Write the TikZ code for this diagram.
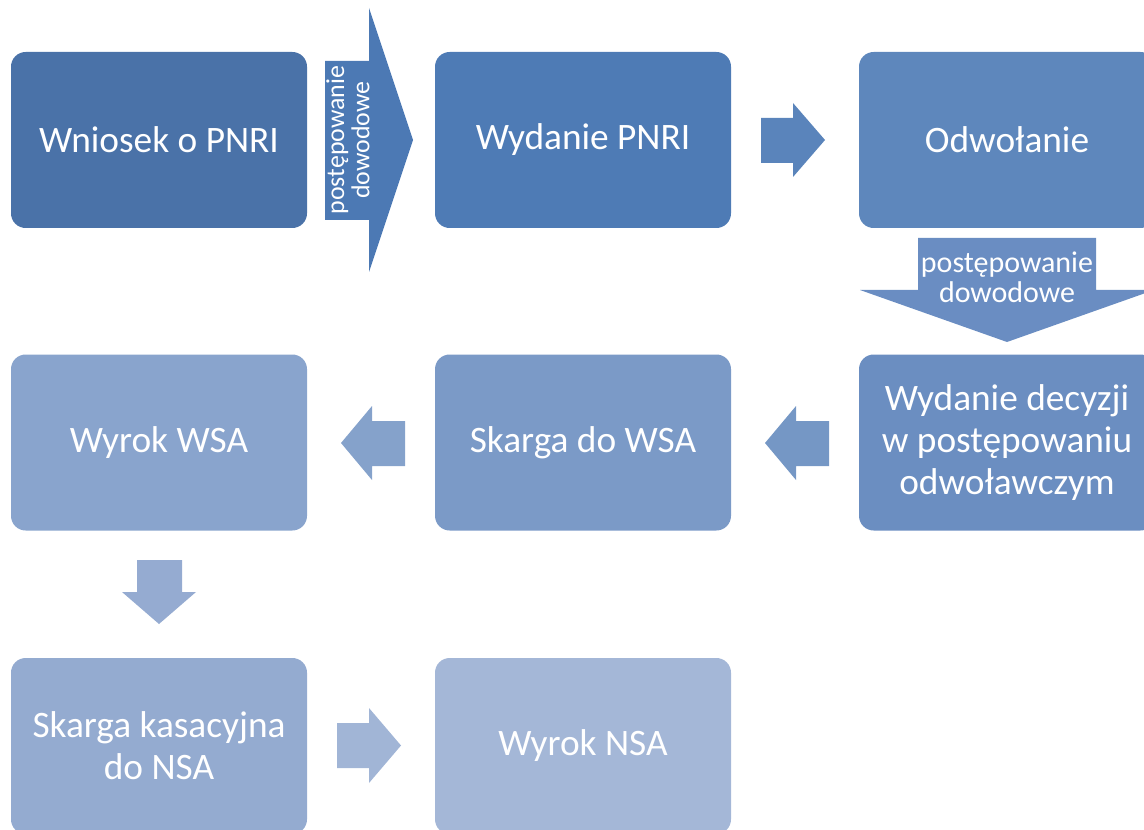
\documentclass[tikz,border=0pt]{standalone}
\usepackage{fontspec}
\setmainfont{Carlito}
\definecolor{c1}{HTML}{4A72A8}
\definecolor{c2}{HTML}{4E7BB5}
\definecolor{c3}{HTML}{5E87BC}
\definecolor{a1}{HTML}{4C79B4}
\definecolor{a2}{HTML}{5A84BB}
\definecolor{a3}{HTML}{6A8DC2}
\definecolor{c4}{HTML}{6B8EC1}
\definecolor{a4}{HTML}{7597C5}
\definecolor{c5}{HTML}{7B9AC7}
\definecolor{a5}{HTML}{85A2CB}
\definecolor{c6}{HTML}{89A4CD}
\definecolor{a6}{HTML}{95ABD1}
\definecolor{c7}{HTML}{94ABD0}
\definecolor{a7}{HTML}{A1B5D6}
\definecolor{c8}{HTML}{A4B7D7}
\begin{document}
\begin{tikzpicture}[x=0.75pt,y=-0.75pt,
  box/.style={rectangle, rounded corners=11pt, minimum width=222pt, minimum height=132pt,
    text=white, align=center, inner sep=0pt, font=\fontsize{28}{31.5}\selectfont},
  arrowtext/.style={text=white, align=center, inner sep=0pt, font=\fontsize{22.5}{22.5}\selectfont}]
\useasboundingbox (0,0) rectangle (1144,830);
\clip (0,0) rectangle (1144,830);
% boxes
\node[box, fill=c1] (b1) at (159,140) {Wniosek o PNRI};
\node[box, fill=c2] (b2) at (583,140) {Wydanie PNRI};
\node[box, fill=c3] (b3) at (1007,140) {Odwołanie};
\node[box, fill=c4] (b4) at (1007,442.5) {Wydanie decyzji\\w postępowaniu\\odwoławczym};
\node[box, fill=c5] (b5) at (583,442.5) {Skarga do WSA};
\node[box, fill=c6] (b6) at (159,442.5) {Wyrok WSA};
\node[box, fill=c7] (b7) at (159,746) {Skarga kasacyjna\\do NSA};
\node[box, fill=c8] (b8) at (583,746) {Wyrok NSA};
% block arrows
\fill[a1] (325,61) -- (369,61) -- (369,8) -- (413,140) -- (369,272) -- (369,220) -- (325,220) -- cycle;
\node[arrowtext, rotate=90, font=\fontsize{19.4}{19}\selectfont] (t1) at (348,140) {postępowanie\\dowodowe};
\fill[a2] (761,118) -- (793,118) -- (793,103) -- (825,140) -- (793,177) -- (793,163) -- (761,163) -- cycle;
\fill[a3] (918,238) -- (1096,238) -- (1096,290) -- (1154,290) -- (1007,342) -- (860,290) -- (918,290) -- cycle;
\node[arrowtext] (t3) at (1007,277) {postępowanie\\dowodowe};
\fill[a4] (829,421) -- (796,421) -- (796,406) -- (765,443) -- (796,480) -- (796,466) -- (829,466) -- cycle;
\fill[a5] (405,421) -- (372,421) -- (372,406) -- (341,443) -- (372,480) -- (372,466) -- (405,466) -- cycle;
\fill[a6] (137,560) -- (182,560) -- (182,592) -- (196,592) -- (159,624) -- (122,592) -- (137,592) -- cycle;
\fill[a7] (337,723) -- (369,723) -- (369,708) -- (401,745.5) -- (369,783) -- (369,768) -- (337,768) -- cycle;
\end{tikzpicture}
\end{document}
